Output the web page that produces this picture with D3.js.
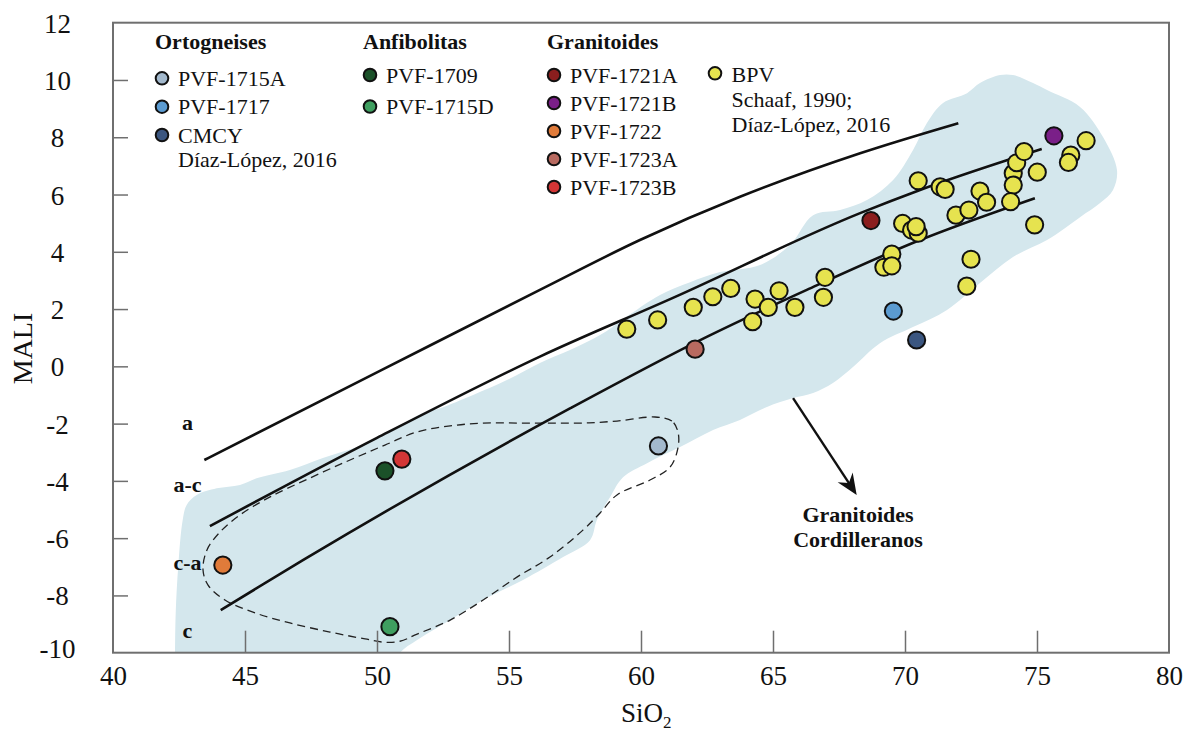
<!DOCTYPE html>
<html><head><meta charset="utf-8">
<script src="https://cdn.jsdelivr.net/npm/d3@7"></script>
<style>
html,body{margin:0;padding:0;background:#fff;}
svg text{font-family:"Liberation Serif","Times New Roman",serif;fill:#111;}
</style></head><body>
<svg id="chart" width="1188" height="734"></svg>
<script>
// ---- data ----
const xTicks = [40, 45, 50, 55, 60, 65, 70, 75, 80];
const yTicks = [-10, -8, -6, -4, -2, 0, 2, 4, 6, 8, 10, 12];

// BPV (Schaaf, 1990; Díaz-López, 2016)
const bpvSiO2 = [59.46,60.63,61.98,62.72,63.40,64.32,64.82,64.23,65.23,65.83,66.97,66.91,69.50,69.20,69.50,69.91,70.25,70.50,70.42,70.50,71.33,71.52,71.93,72.42,72.84,73.09,74.10,74.23,74.51,74.10,74.00,75.01,74.91,72.50,72.34,76.28,76.19,76.86];
const bpvMALI = [1.30,1.62,2.06,2.43,2.72,2.35,2.06,1.56,2.64,2.06,3.11,2.41,3.92,3.46,3.51,4.99,4.76,4.65,4.88,6.48,6.27,6.18,5.28,5.46,6.12,5.73,6.74,7.11,7.50,6.33,5.75,6.78,4.94,3.74,2.80,7.38,7.12,7.88];

// individual samples
const sampleIds  = ["PVF-1715A","PVF-1717","CMCY","PVF-1709","PVF-1715D","PVF-1721A","PVF-1721B","PVF-1722","PVF-1723A","PVF-1723B"];
const sampleSiO2 = [60.66, 69.56, 70.44, 50.30, 50.49, 68.71, 75.64, 44.16, 62.05, 50.94];
const sampleMALI = [-2.78, 1.93, 0.92, -3.65, -9.09, 5.09, 8.05, -6.94, 0.60, -3.24];

// legend groups
const groupTitles = ["Ortogneises", "Anfibolitas", "Granitoides"];
const groupMembers = [
  ["PVF-1715A", "PVF-1717", "CMCY"],
  ["PVF-1709", "PVF-1715D"],
  ["PVF-1721A", "PVF-1721B", "PVF-1722", "PVF-1723A", "PVF-1723B"]
];

// MALI boundary curves [SiO2, MALI]
const curveA  = [[43.46,-3.27],[50.11,-0.16],[56.17,2.67],[59.96,4.41],[63.75,5.92],[68.30,7.44],[72.02,8.49]];
const curveAC = [[43.67,-5.58],[50.0,-2.50],[56.17,0.34],[61.21,2.39],[68.30,5.35],[70.57,6.16],[75.18,7.59]];
const curveCA = [[44.08,-8.51],[47.21,-6.76],[57.31,-1.47],[62.49,1.03],[66.28,2.67],[70.57,4.41],[74.92,5.87]];

// Cordilleran granitoid field
const cordilleranField = [
  [42.35,-10.6],[42.35,-10.0],[42.375,-8.61],[42.47,-7.0],[42.64,-5.37],[42.79,-4.84],[43.17,-4.49],[43.93,-4.26],
  [44.81,-4.14],[45.44,-3.91],[46.70,-3.62],[47.95,-3.20],[49.24,-2.82],[50.49,-2.29],[51.74,-1.63],
  [52.39,-1.46],[53.64,-1.00],[54.92,-0.48],[56.17,0.12],[57.31,0.57],[58.45,1.09],[59.39,1.69],
  [60.72,2.49],[61.86,2.94],[62.99,3.29],[64.51,3.54],[65.64,4.24],[66.52,5.28],[67.54,5.46],
  [68.56,5.81],[69.55,6.51],[70.30,7.55],[70.83,8.50],[71.44,9.20],[72.35,9.54],[72.84,9.89],
  [73.60,10.17],[74.09,10.17],[74.85,9.89],[75.38,9.65],[76.63,9.06],[77.50,8.01],[78.03,6.86],
  [77.88,6.16],[77.39,5.70],[76.63,5.21],[75.38,4.41],[74.09,3.82],[72.84,2.91],[71.59,1.97],
  [70.30,1.37],[69.05,0.81],[68.03,-0.02],[67.27,-0.58],[66.52,-0.93],[65.76,-1.11],[64.77,-1.42],
  [63.75,-1.87],[62.73,-2.22],[61.48,-2.82],[60.23,-3.38],[59.32,-3.87],[58.83,-4.56],[58.33,-5.37],
  [58.07,-6.07],[57.05,-6.66],[55.53,-7.46],[54.02,-8.16],[52.77,-8.86],[51.52,-9.56],[50.87,-10.0],
  [50.49,-10.6]
];

// dashed outline around the metamorphic samples
const metamorphicOutline = [
  [61.40,-2.29],[61.17,-1.91],[60.53,-1.77],[59.09,-1.91],[57.80,-1.98],[56.55,-1.98],[55.30,-1.98],
  [54.02,-1.98],[52.77,-2.08],[51.52,-2.29],[50.30,-2.75],[48.98,-3.27],[47.46,-3.90],[45.95,-4.56],
  [44.81,-5.19],[44.05,-5.79],[43.56,-6.41],[43.41,-7.11],[43.60,-7.64],[44.24,-8.16],[45.38,-8.61],
  [46.70,-8.96],[48.22,-9.28],[49.55,-9.52],[50.23,-9.63],[50.87,-9.60],[51.52,-9.35],[52.77,-8.86],
  [54.02,-8.16],[55.30,-7.36],[56.55,-6.66],[57.80,-5.72],[58.45,-5.12],[59.09,-4.49],[60.34,-3.97],
  [61.10,-3.52],[61.40,-2.85]
];

// series labels on the left, and the field annotation arrow
const curveLabels = [["a",42.82,-2.22],["a-c",42.82,-4.38],["c-a",42.82,-7.12],["c",42.82,-9.50]];
const arrowFrom = [65.76, -1.11];
const arrowTo   = [68.17, -4.49];

// ---- styles ----
const sampleColors = {
  "PVF-1715A":"#a3b9cd","PVF-1717":"#5b9bd1","CMCY":"#3b5680",
  "PVF-1709":"#1b5129","PVF-1715D":"#3f9f60",
  "PVF-1721A":"#8b1e1e","PVF-1721B":"#7a1f88","PVF-1722":"#e07b3a","PVF-1723A":"#b86a60","PVF-1723B":"#d33636"
};
const bpvColor = "#e6e34f";
const fieldColor = "#d4e7ed";
const frameColor = "#6f6f6f";

// ---- layout ----
const L = 113, R = 1169, T = 22.7, B = 652.7;
const x = d3.scaleLinear().domain([40, 80]).range([L, R]);
const y = d3.scaleLinear().domain([-10, 12]).range([B, T]);

const svg = d3.select("#chart");

svg.append("defs").append("clipPath").attr("id","plotClip")
  .append("rect").attr("x",L).attr("y",T).attr("width",R-L).attr("height",B-T);

const plot = svg.append("g").attr("clip-path","url(#plotClip)");

const closedGen = d3.line().x(d => x(d[0])).y(d => y(d[1])).curve(d3.curveCatmullRomClosed.alpha(0.5));

// field
plot.append("path")
  .attr("d", closedGen(cordilleranField))
  .attr("fill", fieldColor).attr("stroke","none");

// dashed outline
plot.append("path")
  .attr("d", closedGen(metamorphicOutline))
  .attr("fill","none").attr("stroke","#222").attr("stroke-width",1.3)
  .attr("stroke-dasharray","8,5");

// boundary curves
const curveGen = d3.line().x(d => x(d[0])).y(d => y(d[1])).curve(d3.curveMonotoneX);
[curveA, curveAC, curveCA].forEach(c => {
  plot.append("path").attr("d", curveGen(c))
    .attr("fill","none").attr("stroke","#111").attr("stroke-width",2.6);
});

// curve labels
svg.append("g").selectAll("text").data(curveLabels).join("text")
  .attr("x", d => x(d[1])).attr("y", d => y(d[2]))
  .attr("text-anchor","middle").attr("font-weight","bold").attr("font-size",22)
  .text(d => d[0]);

// arrow
{
  const x0 = x(arrowFrom[0]), y0 = y(arrowFrom[1]), x1 = x(arrowTo[0]), y1 = y(arrowTo[1]);
  const len = Math.hypot(x1-x0, y1-y0), ux = (x1-x0)/len, uy = (y1-y0)/len;
  const nx = -uy, ny = ux, hl = 21, hw = 9;
  svg.append("line").attr("x1",x0).attr("y1",y0)
    .attr("x2",x1-ux*12).attr("y2",y1-uy*12)
    .attr("stroke","#111").attr("stroke-width",2.4);
  const head = [[x1,y1],[x1-ux*hl+nx*hw, y1-uy*hl+ny*hw],[x1-ux*hl*0.68, y1-uy*hl*0.68],[x1-ux*hl-nx*hw, y1-uy*hl-ny*hw]];
  svg.append("path").attr("d","M"+head.map(p=>p.join(",")).join("L")+"Z").attr("fill","#111");
  svg.append("text").attr("x",858).attr("y",521.5).attr("text-anchor","middle")
    .attr("font-weight","bold").attr("font-size",22).text("Granitoides");
  svg.append("text").attr("x",858).attr("y",546.5).attr("text-anchor","middle")
    .attr("font-weight","bold").attr("font-size",22).text("Cordilleranos");
}

// points
const pts = svg.append("g");
pts.selectAll("circle.bpv").data(d3.range(bpvSiO2.length)).join("circle")
  .attr("class","bpv")
  .attr("cx", i => x(bpvSiO2[i])).attr("cy", i => y(bpvMALI[i])).attr("r", 8.6)
  .attr("fill", bpvColor).attr("stroke","#111").attr("stroke-width",2);
pts.selectAll("circle.smp").data(d3.range(sampleIds.length)).join("circle")
  .attr("class","smp")
  .attr("cx", i => x(sampleSiO2[i])).attr("cy", i => y(sampleMALI[i])).attr("r", 8.6)
  .attr("fill", i => sampleColors[sampleIds[i]]).attr("stroke","#111").attr("stroke-width",2);

// frame and axes
svg.append("rect").attr("x",L).attr("y",T).attr("width",R-L).attr("height",B-T)
  .attr("fill","none").attr("stroke",frameColor).attr("stroke-width",2);

const plainNum = d => String(d);   // hyphen-minus, as in the printed figure

const yAxis = svg.append("g").attr("transform",`translate(${L},0)`)
  .call(d3.axisLeft(y).tickValues(yTicks).tickSize(-15).tickFormat(plainNum));
yAxis.select(".domain").remove();
yAxis.selectAll(".tick line").attr("stroke",frameColor).attr("stroke-width",1.5)
  .filter(d => d === -10 || d === 12).remove();
yAxis.selectAll(".tick text").attr("x",-55.5).attr("dy",null).attr("y",d => d === -10 ? 5 : 9.5)
  .attr("text-anchor","middle").attr("font-size",27)
  .attr("font-family",'"Liberation Serif","Times New Roman",serif').attr("fill","#111");

const xAxis = svg.append("g").attr("transform",`translate(0,${B})`)
  .call(d3.axisBottom(x).tickValues(xTicks).tickSize(-22).tickFormat(plainNum));
xAxis.select(".domain").remove();
xAxis.selectAll(".tick line").attr("stroke",frameColor).attr("stroke-width",1.5)
  .filter(d => d === 40 || d === 80).remove();
xAxis.selectAll(".tick text").attr("y",32).attr("dy",null)
  .attr("font-size",27)
  .attr("font-family",'"Liberation Serif","Times New Roman",serif').attr("fill","#111");

// axis titles
svg.append("text").attr("transform","translate(31.5,348.5) rotate(-90)")
  .attr("text-anchor","middle").attr("font-size",28).text("MALI");
const xt = svg.append("text").attr("x",621).attr("y",722).attr("font-size",27);
xt.append("tspan").text("SiO");
xt.append("tspan").attr("font-size",17).attr("dy",6).text("2");

// legend
const legend = svg.append("g");
const groupX = [155, 363, 547];
const groupItemY = [[78.3, 106.7, 135], [75, 106.5], [75, 103, 131, 159, 187]];
groupTitles.forEach((t, gi) => {
  legend.append("text").attr("x",groupX[gi]).attr("y",48.5)
    .attr("font-weight","bold").attr("font-size",22).text(t);
  groupMembers[gi].forEach((id, k) => {
    const cy = groupItemY[gi][k];
    legend.append("circle").attr("cx",groupX[gi]+7).attr("cy",cy).attr("r",6.3)
      .attr("fill",sampleColors[id]).attr("stroke","#111").attr("stroke-width",2);
    legend.append("text").attr("x",groupX[gi]+23).attr("y",cy+7.5)
      .attr("font-size",22).text(id);
  });
});
legend.append("text").attr("x",178).attr("y",167).attr("font-size",22).text("Díaz-López, 2016");
legend.append("circle").attr("cx",715).attr("cy",73.3).attr("r",6.3)
  .attr("fill",bpvColor).attr("stroke","#111").attr("stroke-width",2);
["BPV","Schaaf, 1990;","Díaz-López, 2016"].forEach((s, i) => {
  legend.append("text").attr("x",731.5).attr("y",81.5 + i*25).attr("font-size",22).text(s);
});
</script></body></html>
